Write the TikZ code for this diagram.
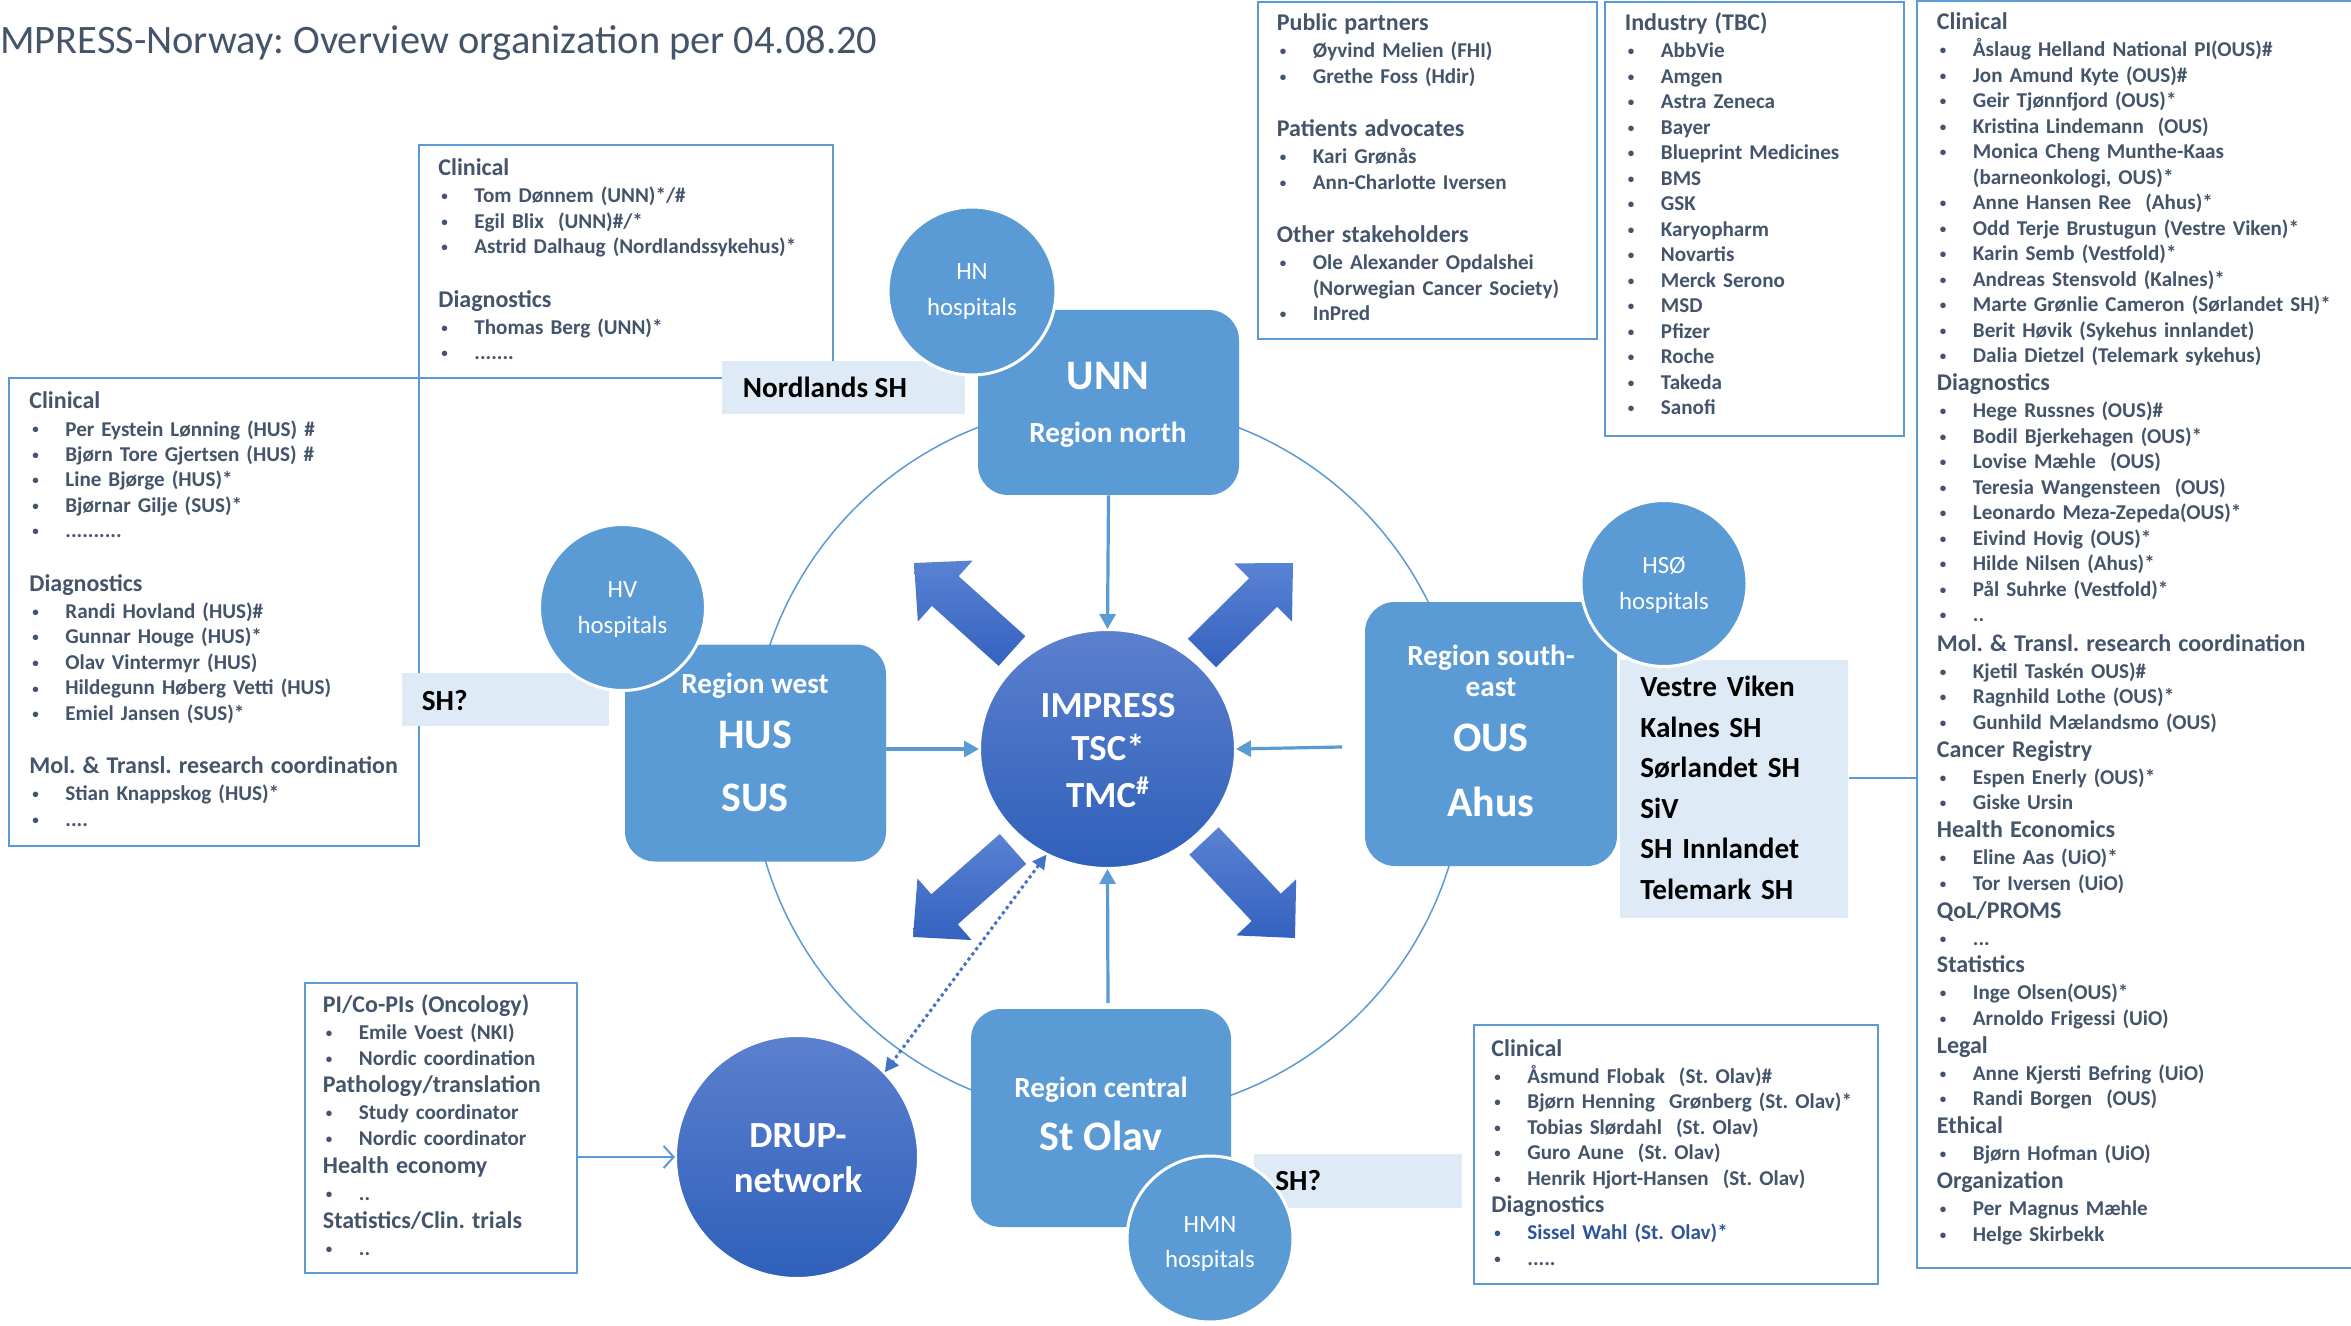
\documentclass[tikz,border=0pt]{standalone}
\usepackage{fontspec}
\setmainfont{Carlito}
\usetikzlibrary{shapes.geometric,arrows.meta,calc}
\definecolor{accent}{HTML}{5B9BD5}
\definecolor{txt}{HTML}{44546A}
\definecolor{lightb}{HTML}{DEEBF7}
\definecolor{dk1}{HTML}{5B80CE}
\definecolor{dk2}{HTML}{2F60BA}
\definecolor{blk1}{HTML}{5A82D3}
\definecolor{blk2}{HTML}{3462C0}
\definecolor{dotb}{HTML}{4472C4}
\definecolor{sissel}{HTML}{2F5597}
\newcommand\bul[1]{\makebox[18pt][l]{\hspace{1.5pt}\raisebox{1pt}{\fontsize{6.5}{6.5}\selectfont\textbullet}}#1}
\newcommand\hd[1]{{\fontsize{12}{12.75}\selectfont #1}}
\newcommand\lpre{\\[1.2pt]}
\newcommand\lpost{\\[0.75pt]}
\newcommand\lblank{\\[14pt]}
\frenchspacing
\begin{document}
\begin{tikzpicture}[x=0.5pt,y=-0.5pt,
  frame/.style={draw=accent, line width=1pt, inner sep=0pt, anchor=north west},
  lst/.style={anchor=base west, inner sep=0pt, text width=#1, align=left, text=txt, font=\fontsize{10.55}{12.75}\selectfont\bfseries},
  lightbox/.style={fill=lightb, inner sep=0pt, anchor=north west},
  lighttxt/.style={anchor=base west, inner sep=0pt, text=black, align=left, font=\fontsize{14.6}{20.25}\selectfont\bfseries},
  region/.style={fill=accent, rounded corners=15pt, inner sep=0pt},
  hosp/.style={circle, fill=accent, draw=white, line width=1.5pt, inner sep=0pt, minimum size=#1},
  big/.style={anchor=base, inner sep=0pt, text=white, font=\fontsize{21}{21}\selectfont\bfseries},
  med/.style={anchor=base, inner sep=0pt, text=white, font=\fontsize{14.6}{14.6}\selectfont\bfseries},
  ctr/.style={anchor=base, inner sep=0pt, text=white, font=\fontsize{18.4}{18.4}\selectfont\bfseries},
  htxt/.style={anchor=base, inner sep=0pt, text=white, font=\fontsize{12.4}{12.4}\selectfont},
  feed/.style={draw=accent, line width=1.6pt, -{Triangle[length=7.5pt,width=8pt]}},
  blk/.style={top color=blk1, bottom color=blk2},
  hub/.style={top color=dk1, bottom color=dk2, draw=white, line width=1pt, inner sep=0pt},
]
\useasboundingbox (0,0) rectangle (2351,1326);
\fill[white] (0,0) rectangle (2351,1326);

% big ring
\draw[accent, line width=0.75pt] (1108,760) circle[radius=178.5pt];

% title
\node[anchor=base west, inner sep=0pt, text=txt, font=\fontsize{20.2}{20.2}\selectfont] (title) at (0,54) {MPRESS-Norway: Overview organization per 04.08.20};

% list frames
\node[frame, minimum width=207pt, minimum height=116.5pt] (fA) at (418,144) {};
\node[frame, minimum width=205pt, minimum height=234pt] (fHUS) at (8,377) {};
\node[frame, minimum width=169.5pt, minimum height=168.5pt] (fPub) at (1257,1) {};
\node[frame, minimum width=149.5pt, minimum height=217pt] (fInd) at (1604,1) {};
\node[frame, minimum width=136pt, minimum height=145pt] (fPI) at (304,982) {};
\node[frame, minimum width=202pt, minimum height=129.5pt] (fSO) at (1473,1024) {};
\draw[accent, line width=1pt] (2351,1.5) -- (1917,1.5) -- (1917,1268) -- (2351,1268);
\coordinate (rbL) at (1917,778);

% list texts
\node[lst=230pt] (lA) at (438,176) {\hd{Clinical}\lpost
\bul{Tom Dønnem (UNN)*/\#}\\
\bul{Egil Blix \ (UNN)\#/*}\\
\bul{Astrid Dalhaug (Nordlandssykehus)*}\lblank
\hd{Diagnostics}\lpost
\bul{Thomas Berg (UNN)*}\\
\bul{.......}};

\node[lst=230pt] (lHUS) at (29,409) {\hd{Clinical}\lpost
\bul{Per Eystein Lønning (HUS) \#}\\
\bul{Bjørn Tore Gjertsen (HUS) \#}\\
\bul{Line Bjørge (HUS)*}\\
\bul{Bjørnar Gilje (SUS)*}\\
\bul{..........}\lblank
\hd{Diagnostics}\lpost
\bul{Randi Hovland (HUS)\#}\\
\bul{Gunnar Houge (HUS)*}\\
\bul{Olav Vintermyr (HUS)}\\
\bul{Hildegunn Høberg Vetti (HUS)}\\
\bul{Emiel Jansen (SUS)*}\lblank
\hd{Mol. \& Transl. research coordination}\lpost
\bul{Stian Knappskog (HUS)*}\\
\bul{....}};

\node[lst=160pt] (lPub) at (1276.5,31) {\hd{Public partners}\lpost
\bul{Øyvind Melien (FHI)}\\
\bul{Grethe Foss (Hdir)}\lblank
\hd{Patients advocates}\lpost
\bul{Kari Grønås}\\
\bul{Ann-Charlotte Iversen}\lblank
\hd{Other stakeholders}\lpost
\bul{Ole Alexander Opdalshei}\\
\hspace*{18pt}(Norwegian Cancer Society)\\
\bul{InPred}};

\node[lst=135pt] (lInd) at (1624.5,31) {\hd{Industry (TBC)}\lpost
\bul{AbbVie}\\
\bul{Amgen}\\
\bul{Astra Zeneca}\\
\bul{Bayer}\\
\bul{Blueprint Medicines}\\
\bul{BMS}\\
\bul{GSK}\\
\bul{Karyopharm}\\
\bul{Novartis}\\
\bul{Merck Serono}\\
\bul{MSD}\\
\bul{Pfizer}\\
\bul{Roche}\\
\bul{Takeda}\\
\bul{Sanofi}};

\node[lst=205pt] (lR) at (1936.5,30) {\hd{Clinical}\lpost
\bul{Åslaug Helland National PI(OUS)\#}\\
\bul{Jon Amund Kyte (OUS)\#}\\
\bul{Geir Tjønnfjord (OUS)*}\\
\bul{Kristina Lindemann \ (OUS)}\\
\bul{Monica Cheng Munthe-Kaas}\\
\hspace*{18pt}(barneonkologi, OUS)*\\
\bul{Anne Hansen Ree \ (Ahus)*}\\
\bul{Odd Terje Brustugun (Vestre Viken)*}\\
\bul{Karin Semb (Vestfold)*}\\
\bul{Andreas Stensvold (Kalnes)*}\\
\bul{Marte Grønlie Cameron (Sørlandet SH)*}\\
\bul{Berit Høvik (Sykehus innlandet)}\\
\bul{Dalia Dietzel (Telemark sykehus)}\lpre
\hd{Diagnostics}\lpost
\bul{Hege Russnes (OUS)\#}\\
\bul{Bodil Bjerkehagen (OUS)*}\\
\bul{Lovise Mæhle \ (OUS)}\\
\bul{Teresia Wangensteen \ (OUS)}\\
\bul{Leonardo Meza-Zepeda(OUS)*}\\
\bul{Eivind Hovig (OUS)*}\\
\bul{Hilde Nilsen (Ahus)*}\\
\bul{Pål Suhrke (Vestfold)*}\\
\bul{..}\\[2pt]
\hd{Mol. \& Transl. research coordination}\lpost
\bul{Kjetil Taskén OUS)\#}\\
\bul{Ragnhild Lothe (OUS)*}\\
\bul{Gunhild Mælandsmo (OUS)}\lpre
\hd{Cancer Registry}\lpost
\bul{Espen Enerly (OUS)*}\\
\bul{Giske Ursin}\lpre
\hd{Health Economics}\lpost
\bul{Eline Aas (UiO)*}\\
\bul{Tor Iversen (UiO)}\lpre
\hd{QoL/PROMS}\lpost
\bul{...}\lpre
\hd{Statistics}\lpost
\bul{Inge Olsen(OUS)*}\\
\bul{Arnoldo Frigessi (UiO)}\lpre
\hd{Legal}\lpost
\bul{Anne Kjersti Befring (UiO)}\\
\bul{Randi Borgen \ (OUS)}\lpre
\hd{Ethical}\lpost
\bul{Bjørn Hofman (UiO)}\lpre
\hd{Organization}\lpost
\bul{Per Magnus Mæhle}\\
\bul{Helge Skirbekk}};

\node[lst=125pt] (lPI) at (322.5,1012.5) {\hd{PI/Co-PIs (Oncology)}\lpost
\bul{Emile Voest (NKI)}\\
\bul{Nordic coordination}\lpre
\hd{Pathology/translation}\lpost
\bul{Study coordinator}\\
\bul{Nordic coordinator}\lpre
\hd{Health economy}\lpost
\bul{..}\lpre
\hd{Statistics/Clin. trials}\lpost
\bul{..}};

\node[lst=190pt] (lSO) at (1491,1056) {\hd{Clinical}\lpost
\bul{Åsmund Flobak \ (St. Olav)\#}\\
\bul{Bjørn Henning \ Grønberg (St. Olav)*}\\
\bul{Tobias Slørdahl \ (St. Olav)}\\
\bul{Guro Aune \ (St. Olav)}\\
\bul{Henrik Hjort-Hansen \ (St. Olav)}\lpre
\hd{Diagnostics}\lpost
{\color{sissel}\bul{Sissel Wahl (St. Olav)*}}\\
\bul{.....}};

% light boxes
\node[lightbox, minimum width=121.5pt, minimum height=26.5pt] (bNord) at (722,361) {};
\node[lightbox, minimum width=103.5pt, minimum height=26.5pt] (bSHw) at (402,673) {};
\node[lightbox, minimum width=104pt, minimum height=27pt] (bSHc) at (1254,1154) {};
\node[lightbox, minimum width=114pt, minimum height=129pt] (bHSO) at (1620,660) {};
\draw[accent, line width=1pt] (bHSO.east |- rbL) -- (rbL);

% region boxes
\node[region, minimum width=130.5pt, minimum height=92.5pt] (unn) at (1108.5,402.5) {};
\node[region, minimum width=130.5pt, minimum height=108.5pt] (west) at (755.5,753) {};
\node[region, minimum width=126pt, minimum height=132pt] (se) at (1491,734) {};
\node[region, minimum width=130pt, minimum height=109pt] (cen) at (1101,1118) {};

% hospital circles
\node[hosp=84pt] (hn) at (972,291) {};
\node[hosp=83pt] (hv) at (622.5,607.5) {};
\node[hosp=83pt] (hso) at (1664,583.5) {};
\node[hosp=83pt] (hmn) at (1210,1239) {};

% light box texts
\node[lighttxt] (tNord) at (742.5,398) {Nordlands SH};
\node[lighttxt] (tSHw) at (421.5,710) {SH?};
\node[lighttxt] (tSHc) at (1275,1190) {SH?};
\node[lighttxt, text width=105pt] (tHSO) at (1640,696.5) {Vestre Viken\\Kalnes SH\\Sørlandet SH\\SiV\\SH Innlandet\\Telemark SH};

% hub and DRUP
\node[hub, ellipse, minimum width=127.5pt, minimum height=119pt] (imp) at (1107.5,749) {};
\node[hub, circle, minimum size=121pt] (drup) at (797,1157) {};

% block arrows
\foreach \n/\tx/\ty/\px/\py in {1/1012/651/914/563, 2/1202/653/1293/563, 3/1013/849/913/937, 4/1204/841/1295/938} {
  \coordinate (t\n) at (\tx,\ty);
  \coordinate (p\n) at (\px,\py);
  \coordinate (h\n) at ($(p\n)!21pt!(t\n)$);
  \shade[blk] ($(t\n)!10pt!90:(p\n)$) -- ($(h\n)!10pt!90:(p\n)$) -- ($(h\n)!20.5pt!90:(p\n)$) -- (p\n)
     -- ($(h\n)!20.5pt!-90:(p\n)$) -- ($(h\n)!10pt!-90:(p\n)$) -- ($(t\n)!10pt!-90:(p\n)$) -- cycle;
}

% feeds into hub
\coordinate (seA) at (1342,747);
\coordinate (cenA) at (1108,1003);
\draw[feed] (unn.south) -- (imp.north);
\draw[feed] (west.east |- imp.west) -- (imp.west);
\draw[feed] (seA) -- (imp.east);
\draw[feed] (cenA) -- (imp.south);
\draw[draw=dotb, line width=1.5pt, dash pattern=on 1.6pt off 1.6pt,
  {Triangle[length=7pt,width=7pt]}-{Triangle[length=7pt,width=7pt]}] (imp.240) -- (drup.44);
\draw[draw=accent, line width=1pt, -{Straight Barb[length=5pt,width=11pt]}] (fPI.east |- drup.west) -- (drup.west);

% region texts
\node[big] (tUNN) at (1108,390) {UNN};
\node[med] (tRN) at (1108,443) {Region north};
\node[med] (tRW) at (755,693) {Region west};
\node[big] (tHUS) at (755,748.5) {HUS};
\node[big] (tSUS) at (755,811.5) {SUS};
\node[med] (tRSE1) at (1491,665) {Region south-};
\node[med] (tRSE2) at (1491,696) {east};
\node[big] (tOUS) at (1491,751.5) {OUS};
\node[big] (tAhus) at (1491,816) {Ahus};
\node[med] (tRC) at (1101,1097) {Region central};
\node[big] (tStO) at (1101,1150.5) {St Olav};
\node[ctr] (tI1) at (1108,717) {IMPRESS};
\node[ctr] (tI2) at (1108,760.5) {TSC*};
\node[ctr] (tI3) at (1108,807) {TMC\textsuperscript{\#}};
\node[ctr] (tD1) at (798,1147.5) {DRUP-};
\node[ctr] (tD2) at (798,1192.5) {network};
\node[htxt] (tHN1) at (972,279.5) {HN};
\node[htxt] (tHN2) at (972,316) {hospitals};
\node[htxt] (tHV1) at (622.5,597.5) {HV};
\node[htxt] (tHV2) at (622.5,633) {hospitals};
\node[htxt] (tHS1) at (1664,573.5) {HSØ};
\node[htxt] (tHS2) at (1664,609) {hospitals};
\node[htxt] (tHM1) at (1210,1232) {HMN};
\node[htxt] (tHM2) at (1210,1267) {hospitals};
\end{tikzpicture}
\end{document}
